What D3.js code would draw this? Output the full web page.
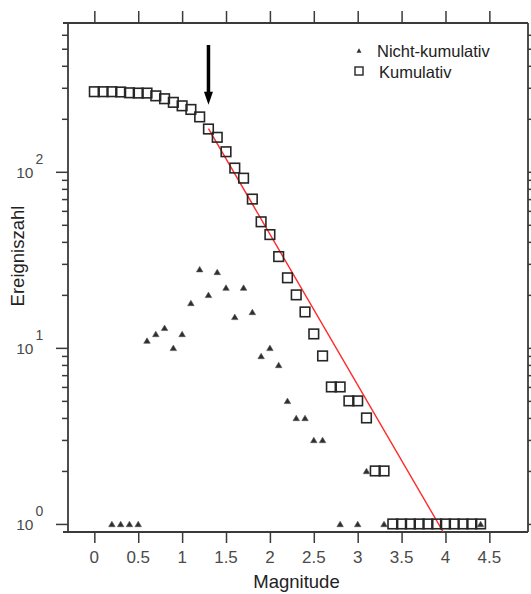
<!DOCTYPE html>
<html>
<head>
<meta charset="utf-8">
<script src="https://cdn.jsdelivr.net/npm/d3@7"></script>
<style>
  html, body { margin: 0; padding: 0; background: #fff; }
  svg { display: block; }
</style>
</head>
<body>
<svg id="chart" width="531" height="594"></svg>
<script>
// ---------- DATA ----------
const magnitudes = [0.0,0.1,0.2,0.3,0.4,0.5,0.6,0.7,0.8,0.9,1.0,1.1,1.2,1.3,1.4,1.5,1.6,1.7,1.8,1.9,2.0,2.1,2.2,2.3,2.4,2.5,2.6,2.7,2.8,2.9,3.0,3.1,3.2,3.3,3.4,3.5,3.6,3.7,3.8,3.9,4.0,4.1,4.2,4.3,4.4];
const cumulative = [285,285,285,284,281,280,280,270,260,248,237,226,205,175,157,130,105,92,70,52,44,33,25,20,16,12,9,6,6,5,5,4,2,2,1,1,1,1,1,1,1,1,1,1,1];

const nonCumMagnitudes = [0.2,0.3,0.4,0.5,0.6,0.7,0.8,0.9,1.0,1.1,1.2,1.3,1.4,1.5,1.6,1.7,1.8,1.9,2.0,2.1,2.2,2.3,2.4,2.5,2.6,2.8,3.0,3.1,3.3,4.4];
const nonCumulative   = [1,1,1,1,11,12,13,10,12,18,28,20,27,22,15,22,16,9,10,8,5,4,4,3,3,1,1,2,1,1];

// fitted Gutenberg-Richter line (endpoints)
const fitMagnitudes = [1.3, 3.98];
const fitCounts = [176, 0.89];

// arrow marking the completeness magnitude
const arrowMagnitude = 1.3;
const arrowFromCount = 525;
const arrowToCount = 240;

const xTickValues = [0, 0.5, 1, 1.5, 2, 2.5, 3, 3.5, 4, 4.5];
const xTickLabels = ["0","0.5","1","1.5","2","2.5","3","3.5","4","4.5"];
const yMajorTicks = [1, 10, 100];
const yMajorExponents = ["0", "1", "2"];
const yMinorTicks = [2,3,4,5,6,7,8,9,20,30,40,50,60,70,80,90,200,300,400,500,600];

const legendLabels = ["Nicht-kumulativ", "Kumulativ"];
const xTitle = "Magnitude";
const yTitle = "Ereigniszahl";

// ---------- CHART ----------
(function () {
const svg = d3.select("#chart");
const pL = 68, pR = 528, pT = 23, pB = 532;

const x = d3.scaleLinear().domain([-0.3, 4.94]).range([pL, pR]);
const y = d3.scaleLog().domain([0.9, 700]).range([pB, pT]);

const axisColor = "#3a3a3a";
const tickFont = "'Liberation Sans', Arial, sans-serif";

// frame
const frame = svg.append("g").attr("stroke", axisColor).attr("stroke-width", 1.8).attr("fill", "none");
frame.append("line").attr("x1", pL - 5).attr("x2", pR).attr("y1", pT).attr("y2", pT);
frame.append("line").attr("x1", pL - 5).attr("x2", pR).attr("y1", pB).attr("y2", pB);
frame.append("line").attr("x1", pL).attr("x2", pL).attr("y1", pT).attr("y2", pB);
frame.append("line").attr("x1", pR).attr("x2", pR).attr("y1", pT).attr("y2", pB);

function styleAxis(g) {
  g.select(".domain").remove();
  g.selectAll(".tick line").attr("stroke", axisColor).attr("stroke-width", 1.5);
  g.selectAll(".tick text").remove();
}

// bottom axis
const xb = svg.append("g").attr("transform", `translate(0,${pB})`)
  .call(d3.axisBottom(x).tickValues(xTickValues).tickSize(11).tickSizeOuter(0));
styleAxis(xb);
svg.append("g").selectAll("text").data(xTickValues).join("text")
  .attr("x", d => x(d)).attr("y", 562.5)
  .attr("text-anchor", "middle")
  .attr("font-family", tickFont).attr("font-size", 17).attr("fill", "#4a4a4a")
  .text((d, i) => xTickLabels[i]);

// top axis
const xt = svg.append("g").attr("transform", `translate(0,${pT})`)
  .call(d3.axisTop(x).tickValues(xTickValues).tickSize(12).tickSizeOuter(0));
styleAxis(xt);

// left axis
const yl = svg.append("g").attr("transform", `translate(${pL},0)`)
  .call(d3.axisLeft(y).tickValues(yMajorTicks).tickSize(12).tickSizeOuter(0));
styleAxis(yl);
const ylm = svg.append("g").attr("transform", `translate(${pL},0)`)
  .call(d3.axisLeft(y).tickValues(yMinorTicks).tickSize(6).tickSizeOuter(0));
styleAxis(ylm);

// right axis
const yr = svg.append("g").attr("transform", `translate(${pR},0)`)
  .call(d3.axisRight(y).tickValues(yMajorTicks).tickSize(12).tickSizeOuter(0));
styleAxis(yr);
const yrm = svg.append("g").attr("transform", `translate(${pR},0)`)
  .call(d3.axisRight(y).tickValues(yMinorTicks).tickSize(6).tickSizeOuter(0));
styleAxis(yrm);

// y tick labels 10^n
const ylab = svg.append("g").attr("font-family", tickFont).attr("fill", "#4a4a4a");
yMajorTicks.forEach((v, i) => {
  ylab.append("text").attr("x", 33.5).attr("y", y(v) + 6.5)
    .attr("text-anchor", "end").attr("font-size", 15.5).text("10");
  ylab.append("text").attr("x", 35.5).attr("y", y(v) - 8)
    .attr("text-anchor", "start").attr("font-size", 14).text(yMajorExponents[i]);
});

// axis titles
svg.append("text")
  .attr("transform", "translate(24,256) rotate(-90)")
  .attr("text-anchor", "middle")
  .attr("font-family", tickFont).attr("font-size", 18.5).attr("fill", "#222")
  .text(yTitle);
svg.append("text")
  .attr("x", 296.5).attr("y", 588)
  .attr("text-anchor", "middle")
  .attr("font-family", tickFont).attr("font-size", 18.5).attr("fill", "#222")
  .text(xTitle);

// clip
svg.append("clipPath").attr("id", "plotclip")
  .append("rect").attr("x", pL).attr("y", pT).attr("width", pR - pL).attr("height", pB - pT);

// fit line
const fitData = fitMagnitudes.map((m, i) => [m, fitCounts[i]]);
svg.append("path")
  .datum(fitData)
  .attr("clip-path", "url(#plotclip)")
  .attr("d", d3.line().x(d => x(d[0])).y(d => y(d[1])))
  .attr("fill", "none").attr("stroke", "#ff2a2a").attr("stroke-width", 1.4);

// triangle path helper
function triPath(w, h) {
  return `M0,${-h/2}L${w/2},${h/2}L${-w/2},${h/2}Z`;
}

// non-cumulative triangles
svg.append("g").selectAll("path").data(nonCumMagnitudes).join("path")
  .attr("transform", (d, i) => `translate(${x(d)},${y(nonCumulative[i])})`)
  .attr("d", triPath(6.5, 5.5))
  .attr("fill", "#2e2e2e").attr("stroke", "#555").attr("stroke-width", 0.6);

// cumulative squares
const sq = 9.6;
svg.append("g").selectAll("rect").data(magnitudes).join("rect")
  .attr("x", d => x(d) - sq / 2)
  .attr("y", (d, i) => y(cumulative[i]) - sq / 2)
  .attr("width", sq).attr("height", sq)
  .attr("fill", "none").attr("stroke", "#262626").attr("stroke-width", 1.6);

// arrow
const ax = x(arrowMagnitude);
const ay0 = y(arrowFromCount), ay1 = y(arrowToCount);
svg.append("line").attr("x1", ax).attr("x2", ax).attr("y1", ay0).attr("y2", ay1 - 10)
  .attr("stroke", "#000").attr("stroke-width", 3.5);
svg.append("path")
  .attr("d", `M${ax - 4.5},${ay1 - 13}L${ax + 4.5},${ay1 - 13}L${ax},${ay1}Z`)
  .attr("fill", "#000");

// legend
const lg = svg.append("g");
lg.append("path").attr("transform", "translate(359,50.5)").attr("d", triPath(5, 4.5)).attr("fill", "#333");
lg.append("rect").attr("x", 355).attr("y", 67).attr("width", 8).attr("height", 8)
  .attr("fill", "none").attr("stroke", "#333").attr("stroke-width", 1.5);
lg.append("text").attr("x", 377).attr("y", 56.5)
  .attr("font-family", tickFont).attr("font-size", 16.5).attr("fill", "#222").text(legendLabels[0]);
lg.append("text").attr("x", 379).attr("y", 78.3)
  .attr("font-family", tickFont).attr("font-size", 16.5).attr("fill", "#222").text(legendLabels[1]);
})();
</script>
</body>
</html>
